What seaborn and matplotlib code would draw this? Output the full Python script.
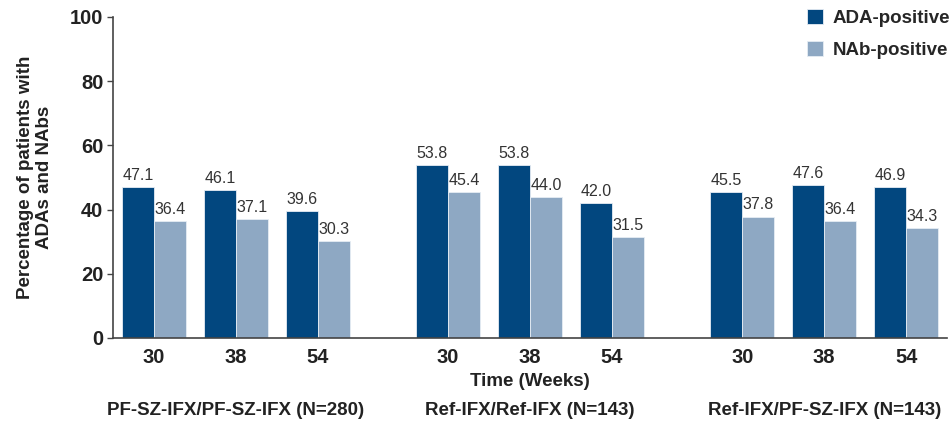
import numpy as np
import pandas as pd
import seaborn as sns
import matplotlib.pyplot as plt

# values
groups = ["PF-SZ-IFX/PF-SZ-IFX (N=280)", "Ref-IFX/Ref-IFX (N=143)", "Ref-IFX/PF-SZ-IFX (N=143)"]
weeks = ["30", "38", "54"]
ada_positive = [47.1, 46.1, 39.6, 53.8, 53.8, 42.0, 45.5, 47.6, 46.9]
nab_positive = [36.4, 37.1, 30.3, 45.4, 44.0, 31.5, 37.8, 36.4, 34.3]
series = ["ADA-positive", "NAb-positive"]
colors = ["#02477f", "#8ea8c3"]

group_gap = 0.59  # extra space between treatment groups, in slot widths

rows = []
for g, grp in enumerate(groups):
    for w, wk in enumerate(weeks):
        i = g * len(weeks) + w
        pos = g * (len(weeks) + group_gap) + w
        rows.append({"pos": pos, "group": grp, "week": wk, "series": series[0], "value": ada_positive[i]})
        rows.append({"pos": pos, "group": grp, "week": wk, "series": series[1], "value": nab_positive[i]})
df = pd.DataFrame(rows)

sns.set_theme(style="white")
plt.rcParams["font.family"] = ["Liberation Sans", "DejaVu Sans"]

fig = plt.figure(figsize=(9.5, 4.26), dpi=100)
ax = fig.add_axes([0.119, 0.2066, 0.878, 0.7535])

sns.barplot(data=df, x="pos", y="value", hue="series", palette=colors, saturation=1,
            native_scale=True, width=0.78, errorbar=None,
            edgecolor="#e6edf4", linewidth=0.6, ax=ax)

for cont in ax.containers:
    ax.bar_label(cont, fmt="%.1f", padding=3, fontsize=11.5, color="#333333")

positions = sorted(df["pos"].unique())
ax.set_xlim(positions[0] - 0.5, positions[-1] + 0.5)
ax.set_ylim(0, 100)

# week labels under each cluster, ticks at slot edges
ax.set_xticks(positions)
ax.set_xticklabels(weeks * len(groups), fontsize=14.5, fontweight="bold", color="#222222")
ax.tick_params(axis="x", which="major", length=0, pad=7)
edges = sorted(set([p - 0.5 for p in positions] + [p + 0.5 for p in positions]))
ax.set_xticks(edges, minor=True)
ax.tick_params(axis="x", which="minor", length=4, width=1, color="#444444", direction="out")

ax.set_yticks([0, 20, 40, 60, 80, 100])
ax.set_yticklabels(["0", "20", "40", "60", "80", "100"], fontsize=14.5, fontweight="bold", color="#222222")
ax.tick_params(axis="y", length=4, width=1, color="#444444", direction="out", left=True, pad=3)

ax.set_xlabel("")
ax.set_ylabel("Percentage of patients with\nADAs and NAbs", fontsize=13.5, fontweight="bold",
              color="#222222", labelpad=12)

for s in ["top", "right"]:
    ax.spines[s].set_visible(False)
for s in ["left", "bottom"]:
    ax.spines[s].set_color("#444444")
    ax.spines[s].set_linewidth(1.2)

ax.text(0.5, -0.135, "Time (Weeks)", transform=ax.transAxes, ha="center", va="center",
        fontsize=13.5, fontweight="bold", color="#222222")
for g, grp in enumerate(groups):
    center = np.mean(positions[g * 3:(g + 1) * 3])
    ax.text(center, -0.225, grp, transform=ax.get_xaxis_transform(), ha="center", va="center",
            fontsize=13.5, fontweight="bold", color="#222222")

handles, labels = ax.get_legend_handles_labels()
ax.legend(handles, labels, loc="upper right", bbox_to_anchor=(1.024, 1.078), frameon=False,
          handlelength=0.85, handleheight=0.85, handletextpad=0.5, labelspacing=0.75,
          prop={"weight": "bold", "size": 13.5})

fig.savefig("out.png", dpi=100)
